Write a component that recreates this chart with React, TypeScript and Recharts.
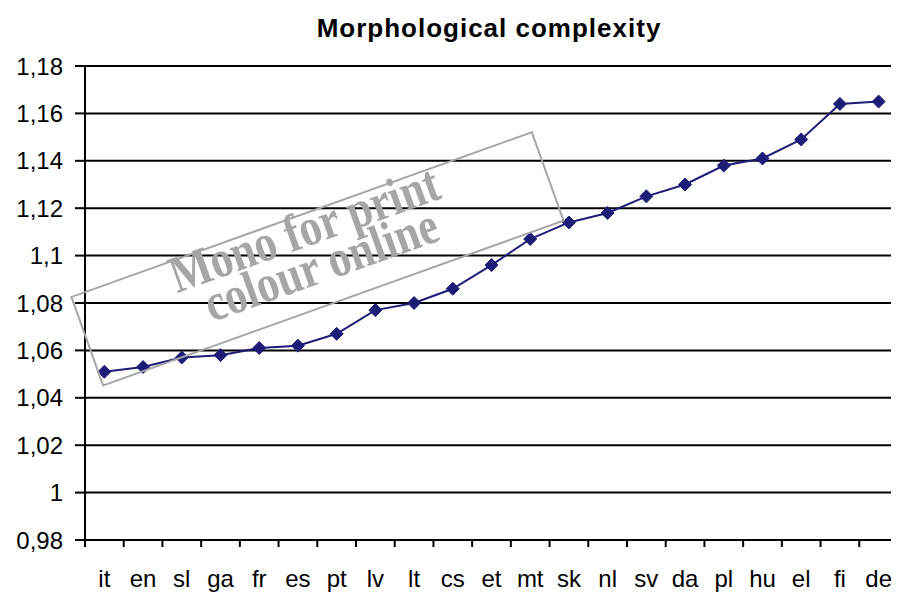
import React from 'react';
import { LineChart, Line, XAxis, YAxis, CartesianGrid } from 'recharts';

const categories = ['it', 'en', 'sl', 'ga', 'fr', 'es', 'pt', 'lv', 'lt', 'cs', 'et', 'mt', 'sk', 'nl', 'sv', 'da', 'pl', 'hu', 'el', 'fi', 'de'];
const complexity = [1.051, 1.053, 1.057, 1.058, 1.061, 1.062, 1.067, 1.077, 1.080, 1.086, 1.096, 1.107, 1.114, 1.118, 1.125, 1.130, 1.138, 1.141, 1.149, 1.164, 1.165];
const yTicks = [0.98, 1.0, 1.02, 1.04, 1.06, 1.08, 1.1, 1.12, 1.14, 1.16, 1.18];
const title = 'Morphological complexity';
const watermarkLines = ['Mono for print', 'colour online'];

const data = categories.map((lang, i) => ({ lang, value: complexity[i] }));

const W = 899;
const H = 593;
const PLOT_LEFT = 85;
const PLOT_RIGHT_MARGIN = 1;
const BAND = (W - PLOT_RIGHT_MARGIN - PLOT_LEFT) / categories.length;
const FONT = '"Liberation Sans", Arial, sans-serif';
const SERIF = '"Liberation Serif", "Times New Roman", serif';
const LINE_COLOR = '#1d1d78';
const WM_COLOR = '#a6a6a6';

const fmt = (v: number) => String(Number(v.toFixed(2))).replace('.', ',');

const XTick = (props: any) => {
  const { x, y, payload, index } = props;
  const last = index === categories.length - 1;
  return (
    <g>
      <line x1={x - BAND / 2} x2={x - BAND / 2} y1={y} y2={y + 7} stroke="#000" strokeWidth={2} />
      {last && <line x1={x + BAND / 2} x2={x + BAND / 2} y1={y} y2={y + 7} stroke="#000" strokeWidth={2} />}
      <text x={x} y={y + 47} textAnchor="middle" fontSize={24} fontFamily={FONT} fill="#000">
        {payload.value}
      </text>
    </g>
  );
};

const Diamond = (props: any) => {
  const { cx, cy } = props;
  if (cx == null || cy == null) return null;
  const r = 6.5;
  return (
    <polygon
      points={`${cx},${cy - r} ${cx + r},${cy} ${cx},${cy + r} ${cx - r},${cy}`}
      fill={LINE_COLOR}
      stroke={LINE_COLOR}
      strokeWidth={1}
    />
  );
};

export default function App() {
  return (
    <div style={{ position: 'relative', width: W, height: H, margin: '-8px 0 0 -8px', background: '#fff' }}>
      <LineChart width={W} height={H} data={data} margin={{ top: 66, right: PLOT_RIGHT_MARGIN, left: 0, bottom: 13 }}>
        <CartesianGrid vertical={false} stroke="#000" strokeWidth={2} />
        <XAxis
          dataKey="lang"
          interval={0}
          height={40}
          padding={{ left: BAND / 2, right: BAND / 2 }}
          tickLine={false}
          tickSize={0}
          tickMargin={0}
          axisLine={{ stroke: '#000', strokeWidth: 2 }}
          tick={<XTick />}
        />
        <YAxis
          domain={[0.98, 1.18]}
          ticks={yTicks}
          interval={0}
          width={PLOT_LEFT}
          tickSize={10}
          tickMargin={12}
          tickFormatter={fmt}
          axisLine={{ stroke: '#000', strokeWidth: 2 }}
          tickLine={{ stroke: '#000', strokeWidth: 2 }}
          tick={{ fill: '#000', fontSize: 24, fontFamily: FONT }}
        />
        <Line
          type="linear"
          dataKey="value"
          stroke={LINE_COLOR}
          strokeWidth={2}
          dot={<Diamond />}
          activeDot={false}
          isAnimationActive={false}
        />
      </LineChart>
      <svg width={W} height={H} style={{ position: 'absolute', left: 0, top: 0, pointerEvents: 'none' }}>
        <text x={489} y={37} textAnchor="middle" fontSize={26} fontWeight="bold" letterSpacing={1} fontFamily={FONT} fill="#000">
          {title}
        </text>
        <g transform="translate(317,259) rotate(-19.7)">
          <rect x={-244} y={-47} width={489} height={94} fill="none" stroke={WM_COLOR} strokeWidth={2} />
          <g transform="scale(1,1.2)">
            <text x={-2} y={-12.5} textAnchor="middle" fontSize={44} fontWeight="bold" fontFamily={SERIF} fill={WM_COLOR}>
              {watermarkLines[0]}
            </text>
            <text x={2} y={20} textAnchor="middle" fontSize={44} fontWeight="bold" fontFamily={SERIF} fill={WM_COLOR}>
              {watermarkLines[1]}
            </text>
          </g>
        </g>
      </svg>
    </div>
  );
}
